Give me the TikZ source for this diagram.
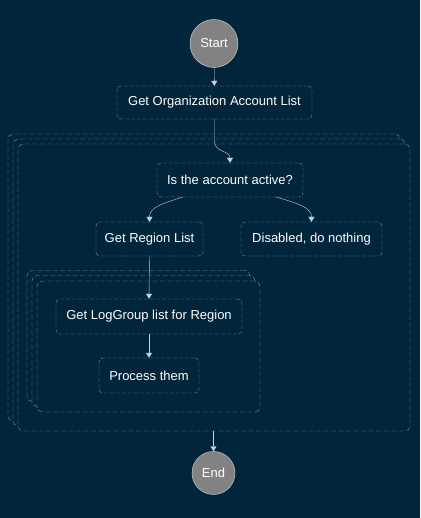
\documentclass[tikz,border=0pt]{standalone}
\usepackage{fontspec}
\setmainfont{Liberation Sans}
\usetikzlibrary{arrows.meta}
\definecolor{bgblue}{HTML}{01263B}
\definecolor{dashgray}{HTML}{7F92A2}
\definecolor{flowgray}{HTML}{C9CED3}
\definecolor{termgray}{HTML}{828282}

\begin{document}
\begin{tikzpicture}[x=1pt, y=-1pt, > = {Triangle[width=6pt,length=5pt]},
    state/.style = {draw=dashgray, dashed, dash pattern=on 4pt off 2pt, rounded corners=4pt, fill=bgblue, text=white, font=\fontsize{13}{15}\selectfont, inner sep=0pt},
    term/.style = {circle, draw=flowgray!70, fill=termgray, text=white, font=\fontsize{13}{15}\selectfont, inner sep=0pt},
    frame/.style = {draw=dashgray, dash pattern=on 5pt off 2.5pt, rounded corners=5pt, fill=bgblue, inner sep=0pt},
    flow/.style = {draw=flowgray, thin, ->}]

    % background
    \fill[bgblue] (0,0) rectangle (420,518);
    \useasboundingbox (0,0) rectangle (420,518);

    % outer map (accounts), stacked
    \node[frame, minimum width=392pt, minimum height=287pt] (outerB) at (204,277.5) {};
    \node[frame, minimum width=392pt, minimum height=287pt] (outerM) at (209,282.5) {};
    \node[frame, minimum width=392pt, minimum height=287pt] (outer) at (214,287.5) {};

    % inner map (regions), stacked
    \node[frame, minimum width=223pt, minimum height=131pt] (innerB) at (138.5,336) {};
    \node[frame, minimum width=223pt, minimum height=131pt] (innerM) at (143.5,341) {};
    \node[frame, minimum width=223pt, minimum height=131pt] (inner) at (148.5,346.5) {};

    % states
    \node[term, minimum size=48pt] (start) at (214,43.5) {Start};
    \node[state, minimum width=195pt, minimum height=33pt] (accounts) at (214.5,102.5) {Get Organization Account List};
    \node[state, minimum width=146pt, minimum height=34pt] (active) at (230,180) {Is the account active?};
    \node[state, minimum width=107pt, minimum height=34pt] (regions) at (149.5,239) {Get Region List};
    \node[state, minimum width=141pt, minimum height=34pt] (disabled) at (311.5,239) {Disabled, do nothing};
    \node[state, minimum width=186pt, minimum height=35pt] (loggroups) at (149,316.5) {Get LogGroup list for Region};
    \node[state, minimum width=100pt, minimum height=35pt] (process) at (149,375.5) {Process them};
    \node[term, minimum size=43pt] (end) at (213.5,473) {End};

    % transitions
    \coordinate (bend) at (214.5,141);
    \coordinate (activeL) at (183,197);
    \coordinate (activeR) at (276,197);
    \draw[flow] (start) -- (accounts);
    \draw[flow] (accounts.south) -- (bend) .. controls (214.5,153) and (230,150) .. (active.north);
    \draw[flow] (activeL) .. controls (160,204) and (149.5,208) .. (regions.north);
    \draw[flow] (activeR) .. controls (300,204) and (311.5,208) .. (disabled.north);
    \draw[flow] (regions.south) -- (loggroups.north);
    \draw[flow] (loggroups) -- (process);
    \draw[flow] (outer.south -| end) -- (end);

\end{tikzpicture}
\end{document}
